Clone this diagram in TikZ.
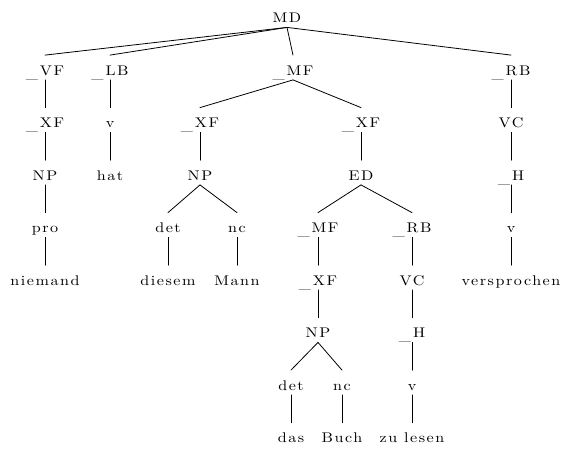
\documentclass[tikz,border=0pt]{standalone}
\usepackage{fontspec}
\setmainfont{lmroman10-regular.otf}[LetterSpace=11,FakeStretch=1.15]
\newcommand{\gap}{\raisebox{-3pt}{\_}\kern2pt}
\begin{document}
\begin{tikzpicture}[x=1pt,y=-1pt,line join=round,line cap=round,line width=0.8pt,font=\fontsize{14}{16}\selectfont]
		\tikzset{cat/.style={anchor=base,inner xsep=0pt,inner ysep=4.5pt,text height=15pt,text depth=0pt}}
		\useasboundingbox (0,0) rectangle (564,448);
		\node[cat] (md) at (287,22.5) {MD};
		% topological fields
		\node[cat] (vf) at (45,75) {\gap VF};
		\node[cat] (lb) at (110,75) {\gap LB};
		\node[cat] (mf) at (293,75) {\gap MF};
		\node[cat] (rb) at (511,75) {\gap RB};
		\node[cat] (xfa) at (45,127.5) {\gap XF};
		\node[cat] (va) at (110,127.5) {v};
		\node[cat] (xfb) at (200,127.5) {\gap XF};
		\node[cat] (xfc) at (361,127.5) {\gap XF};
		\node[cat] (vca) at (511,127.5) {VC};
		\node[cat] (npa) at (45,180) {NP};
		\node[cat] (hat) at (110,180) {hat};
		\node[cat] (npb) at (200,180) {NP};
		\node[cat] (ed) at (361,180) {ED};
		\node[cat] (ha) at (511,180) {\gap H};
		\node[cat] (pro) at (45,232.5) {pro};
		\node[cat] (deta) at (168,232.5) {det};
		\node[cat] (nca) at (237,232.5) {nc};
		\node[cat] (mfb) at (318,232.5) {\gap MF};
		\node[cat] (rbb) at (412,232.5) {\gap RB};
		\node[cat] (vb) at (511,232.5) {v};
		% words
		\node[cat] (niemand) at (45,285) {niemand};
		\node[cat] (diesem) at (168,285) {diesem};
		\node[cat] (mann) at (237,285) {Mann};
		\node[cat] (xfd) at (318,285) {\gap XF};
		\node[cat] (vcb) at (412,285) {VC};
		\node[cat] (versprochen) at (511,285) {versprochen};
		\node[cat] (npc) at (318,337.5) {NP};
		\node[cat] (hb) at (412,337.5) {\gap H};
		\node[cat] (detb) at (291,390) {det};
		\node[cat] (ncb) at (342,390) {nc};
		\node[cat] (vz) at (412,390) {v};
		\node[cat] (das) at (291,442.5) {das};
		\node[cat] (buch) at (342,442.5) {Buch};
		\node[cat] (zulesen) at (412,442.5) {zu lesen};
		\foreach \p/\c in {md/vf,md/lb,md/mf,md/rb,vf/xfa,xfa/npa,npa/pro,pro/niemand,lb/va,va/hat,
			mf/xfb,mf/xfc,xfb/npb,npb/deta,npb/nca,deta/diesem,nca/mann,xfc/ed,ed/mfb,ed/rbb,
			mfb/xfd,xfd/npc,npc/detb,npc/ncb,detb/das,ncb/buch,rbb/vcb,vcb/hb,hb/vz,vz/zulesen,
			rb/vca,vca/ha,ha/vb,vb/versprochen}
		\draw (\p.south) -- (\c.north);
	\end{tikzpicture}
\end{document}
